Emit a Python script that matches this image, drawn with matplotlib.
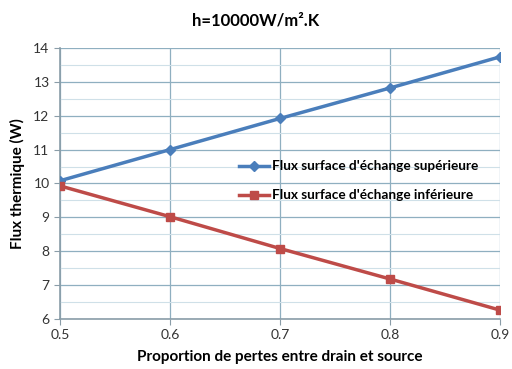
import matplotlib
matplotlib.use("Agg")
import matplotlib.pyplot as plt
from matplotlib.ticker import MultipleLocator

plt.rcParams['font.family'] = ['Lato', 'DejaVu Sans']

x = [0.5, 0.6, 0.7, 0.8, 0.9]
sup = [10.08, 11.0, 11.92, 12.82, 13.74]
inf = [9.93, 9.02, 8.08, 7.18, 6.26]
lab_sup = "Flux surface d'échange supérieure"
lab_inf = "Flux surface d'échange inférieure"

fig = plt.figure(figsize=(5.12, 3.69), dpi=100)
ax = fig.add_axes([0.117, 0.1355, 0.86, 0.7345])

ax.plot(x, sup, color='#4A7EBB', lw=2.5, marker='D', ms=5, label=lab_sup, zorder=3)
ax.plot(x, inf, color='#BE4B48', lw=2.5, marker='s', ms=6, label=lab_inf, zorder=3)

ax.set_xlim(0.5, 0.9)
ax.set_ylim(6, 14)
ax.xaxis.set_major_locator(MultipleLocator(0.1))
ax.yaxis.set_major_locator(MultipleLocator(1))
ax.yaxis.set_minor_locator(MultipleLocator(0.5))
ax.grid(which='major', color='#8FAFC0', lw=0.9)
ax.grid(which='minor', axis='y', color='#CFE0E8', lw=0.8)
ax.set_axisbelow(True)
for s in ['top', 'right']:
    ax.spines[s].set_visible(False)
for s in ['left', 'bottom']:
    ax.spines[s].set_color('#8A9DA8')
    ax.spines[s].set_linewidth(1.2)
ax.tick_params(which='major', direction='out', length=4, color='#8A9DA8', labelsize=10, labelcolor='#333333')
ax.tick_params(which='minor', length=0)
ax.set_xticks(x)
ax.set_xticklabels([f"{v:.1f}" for v in x])

ax.set_xlabel('Proportion de pertes entre drain et source', fontsize=11, fontweight='bold', labelpad=6)
ax.set_ylabel('Flux thermique (W)', fontsize=11, fontweight='bold', labelpad=6)
fig.text(0.5, 0.945, 'h=10000W/m².K', ha='center', va='center', fontsize=12, fontweight='bold')

leg = ax.legend(loc='center left', bbox_to_anchor=(0.38, 0.51), frameon=False,
                handlelength=2.2, handletextpad=0.2, labelspacing=1.25, prop={'weight': 'bold', 'size': 9.8})

fig.savefig('out.png', dpi=100)
